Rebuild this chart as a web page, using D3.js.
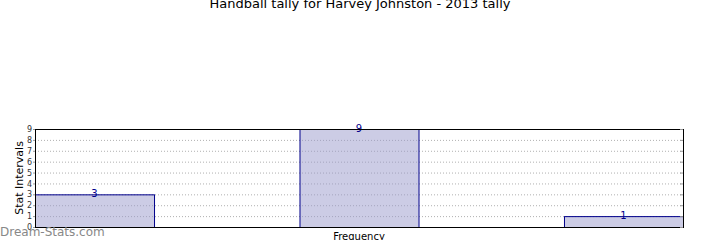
<!DOCTYPE html>
<html>
<head>
<meta charset="utf-8">
<script src="https://cdn.jsdelivr.net/npm/d3@7"></script>
<style>
  body { margin: 0; background: #fff; }
  svg { display: block; font-family: "DejaVu Sans", sans-serif; }
</style>
</head>
<body>
<svg width="720" height="240"></svg>
<script>
const title = "Handball tally for Harvey Johnston - 2013 tally"
const binStarts = [0, 1, 2]
const counts = [3, 9, 1]
const yTicks = [0, 1, 2, 3, 4, 5, 6, 7, 8, 9]
const barWidth = 0.45

window.addEventListener('load', () => {
    draw()
})

function draw() {
    const svg = d3.select("svg")
    const margin = {top: 129, right: 37, bottom: 13, left: 35}
    const width = +svg.attr("width") - margin.left - margin.right
    const height = +svg.attr("height") - margin.top - margin.bottom

    const x = d3.scaleLinear().domain([0, 2 + barWidth]).range([0, width])
    const y = d3.scaleLinear().domain([0, 9]).range([height, 0])

    const g = svg.append("g").attr("transform", "translate(" + margin.left + "," + margin.top + ")")

    // dotted grid
    g.selectAll(".grid")
        .data(yTicks.filter(d => d > 0 && d < 9))
        .enter().append("line")
        .attr("x1", 0).attr("x2", width)
        .attr("y1", d => y(d) + 0.5).attr("y2", d => y(d) + 0.5)
        .attr("stroke", "#b0b0b0")
        .attr("stroke-dasharray", "1,2")

    g.selectAll(".bar")
        .data(binStarts)
        .enter().append("rect")
        .attr("x", (d) => x(d) + 0.5)
        .attr("y", (d, i) => y(counts[i]) + 0.5)
        .attr("width", x(barWidth))
        .attr("height", (d, i) => y(0) - y(counts[i]))
        .attr("fill", "rgba(153, 153, 204, 0.5)")
        .attr("stroke", "#00008b")

    g.selectAll(".lbl")
        .data(binStarts)
        .enter().append("text")
        .attr("x", d => x(d + barWidth / 2))
        .attr("y", (d, i) => y(counts[i]) + 3)
        .attr("text-anchor", "middle")
        .attr("font-size", 10)
        .attr("fill", "#00008b")
        .text((d, i) => counts[i])

    // frame
    g.append("rect")
        .attr("x", 0.5).attr("y", 0.5)
        .attr("width", width).attr("height", height)
        .attr("fill", "none").attr("stroke", "#000")

    const yAxis = g.append("g")
        .call(d3.axisLeft(y).tickValues(yTicks).tickSize(2).tickPadding(1).tickFormat(d3.format("d")))
    yAxis.select(".domain").remove()
    yAxis.selectAll(".tick line").attr("stroke", "#999")
    yAxis.selectAll("text").attr("font-size", 8).attr("fill", "#333").attr("font-family", "DejaVu Sans")

    // right side ticks
    g.selectAll(".rtick")
        .data(yTicks)
        .enter().append("line")
        .attr("x1", width - 3).attr("x2", width)
        .attr("y1", d => y(d) + 0.5).attr("y2", d => y(d) + 0.5)
        .attr("stroke", "#999")

    svg.append("text")
        .attr("x", 360).attr("y", 8)
        .attr("text-anchor", "middle")
        .attr("font-size", 13)
        .attr("fill", "#000")
        .text(title)

    svg.append("text")
        .attr("transform", "translate(23," + (margin.top + height / 2) + ") rotate(-90)")
        .attr("text-anchor", "middle")
        .attr("font-size", 11)
        .text("Stat Intervals")

    svg.append("text")
        .attr("x", margin.left + width / 2).attr("y", 240)
        .attr("text-anchor", "middle")
        .attr("font-size", 10)
        .text("Frequency")

    svg.append("text")
        .attr("x", 0).attr("y", 236)
        .attr("font-size", 12)
        .attr("fill", "#888")
        .text("Dream-Stats.com")
}
</script>
</body>
</html>
